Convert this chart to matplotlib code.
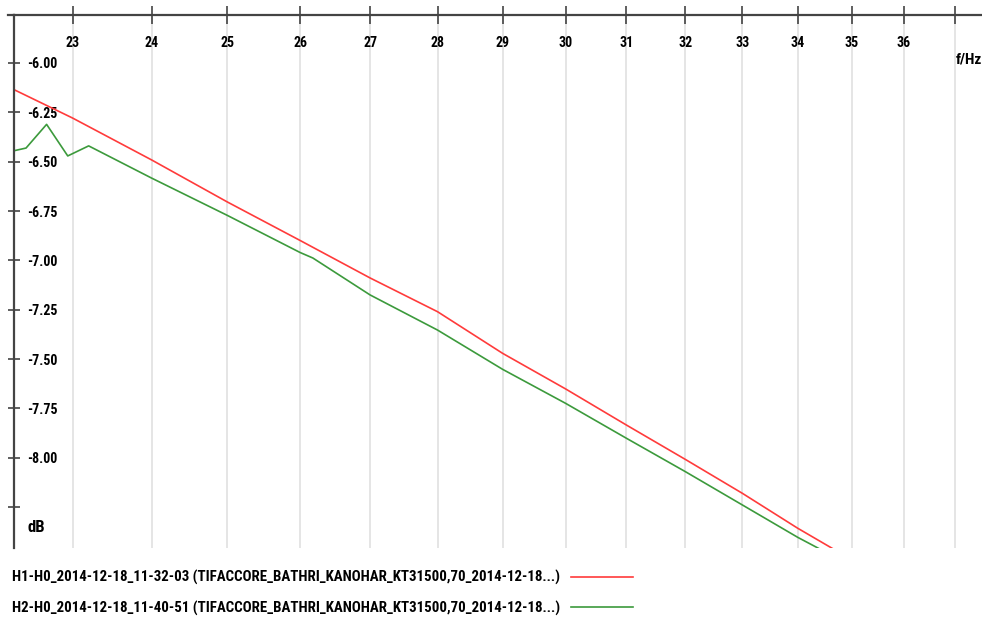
import matplotlib
matplotlib.use("Agg")
import matplotlib.pyplot as plt
from matplotlib.lines import Line2D
from matplotlib.ticker import FixedLocator, NullLocator
from matplotlib import font_manager

# ---- data ----
freq_ticks = [23, 24, 25, 26, 27, 28, 29, 30, 31, 32, 33, 34, 35, 36, 37]
freq_tick_labels = ['23', '24', '25', '26', '27', '28', '29', '30', '31', '32', '33', '34', '35', '36', '']
db_ticks = [-6.00, -6.25, -6.50, -6.75, -7.00, -7.25, -7.50, -7.75, -8.00, -8.25]
db_tick_labels = ['-6.00', '-6.25', '-6.50', '-6.75', '-7.00', '-7.25', '-7.50', '-7.75', '-8.00', '']

freq_h1 = [22.27, 23, 24, 25, 26, 27, 28, 29, 30, 31, 32, 33, 34, 34.69]
db_h1 = [-6.132, -6.279, -6.491, -6.704, -6.899, -7.089, -7.260, -7.471, -7.651,
         -7.834, -8.008, -8.180, -8.357, -8.467]

freq_h2 = [22.27, 22.43, 22.68, 22.94, 23.20, 24, 25, 26, 26.18, 27, 28, 29, 30,
           31, 32, 33, 34, 34.44]
db_h2 = [-6.446, -6.431, -6.311, -6.471, -6.420, -6.583, -6.772, -6.960, -6.988,
         -7.175, -7.353, -7.552, -7.724, -7.901, -8.070, -8.239, -8.403, -8.467]

label_h1 = "H1-H0_2014-12-18_11-32-03 (TIFACCORE_BATHRI_KANOHAR_KT31500,70_2014-12-18...)"
label_h2 = "H2-H0_2014-12-18_11-40-51 (TIFACCORE_BATHRI_KANOHAR_KT31500,70_2014-12-18...)"

# pick the narrowest available sans font
names = {f.name for f in font_manager.fontManager.ttflist}
prefs = ['Liberation Sans Narrow', 'DejaVu Sans Condensed', 'Roboto Condensed',
         'Open Sans Condensed', 'Liberation Sans', 'Roboto']
main = next((p for p in prefs if p in names), 'DejaVu Sans')
FONT = [main, 'DejaVu Sans']
plt.rcParams['font.family'] = FONT

W, H = 982, 624
fig = plt.figure(figsize=(W / 100, H / 100), dpi=100)
ax = fig.add_axes([14 / W, 1 - 548 / H, (W - 14) / W, (548 - 15) / H])

ax.plot(freq_h1, db_h1, color='#ff3b3b', lw=1.2, label=label_h1)
ax.plot(freq_h2, db_h2, color='#3c9a3c', lw=1.2, label=label_h2)

ax.set_xscale('log')
ax.set_xlim(22.285, 37.55)
ax.set_ylim(-8.457, -5.757)

ax.xaxis.set_major_locator(FixedLocator(freq_ticks))
ax.xaxis.set_minor_locator(NullLocator())
ax.set_xticks(freq_ticks, freq_tick_labels)
ax.set_yticks(db_ticks, db_tick_labels)

axis_col = '#444444'
for s in ['bottom', 'right']:
    ax.spines[s].set_visible(False)
for s in ['top', 'left']:
    ax.spines[s].set_color(axis_col)
    ax.spines[s].set_linewidth(1.6)

ax.xaxis.set_ticks_position('top')
ax.tick_params(axis='x', which='major', direction='inout', length=13.5, width=1.2,
               color=axis_col, labeltop=True, labelbottom=False, pad=-32,
               labelsize=10)
ax.tick_params(axis='y', which='major', direction='inout', length=8.6, width=1.2,
               color=axis_col, labelleft=True, pad=-14, labelsize=10)
for lab in ax.get_yticklabels():
    lab.set_horizontalalignment('left')
    lab.set_fontweight('bold')
for lab in ax.get_xticklabels():
    lab.set_fontweight('bold')

ax.grid(axis='x', color='#e3e3e3', lw=1.3)
ax.grid(axis='y', visible=False)
ax.set_axisbelow(True)

# small extension of the top axis line to the left of the y axis
ax.add_line(Line2D([-6 / (W - 14), 0], [1, 1], transform=ax.transAxes,
                   color=axis_col, lw=1.6, clip_on=False))

ax.text(1.0, 0.917, 'f/Hz', transform=ax.transAxes, ha='right', va='center',
        fontsize=11, fontweight='bold', color='black')
ax.text(0.0135, 0.038, 'dB', transform=ax.transAxes, ha='left', va='center',
        fontsize=12, fontweight='bold', color='black')

# size the legend font so the label spans about 552 px as in the reference
renderer = fig.canvas.get_renderer()
probe = fig.text(0, 0, label_h1, fontsize=10, fontweight='bold', family=FONT)
wpx = probe.get_window_extent(renderer).width
probe.remove()
leg_size = min(11.0, 10 * 552 / wpx)

leg = fig.legend(loc='lower left', bbox_to_anchor=(4 / W, 0.0), frameon=False,
                 markerfirst=False, handlelength=62 / (leg_size * 100 / 72),
                 labelspacing=1.05,
                 prop={'family': FONT, 'weight': 'bold', 'size': leg_size},
                 borderaxespad=0.15, handletextpad=0.7)

fig.savefig('out.png', dpi=100)
